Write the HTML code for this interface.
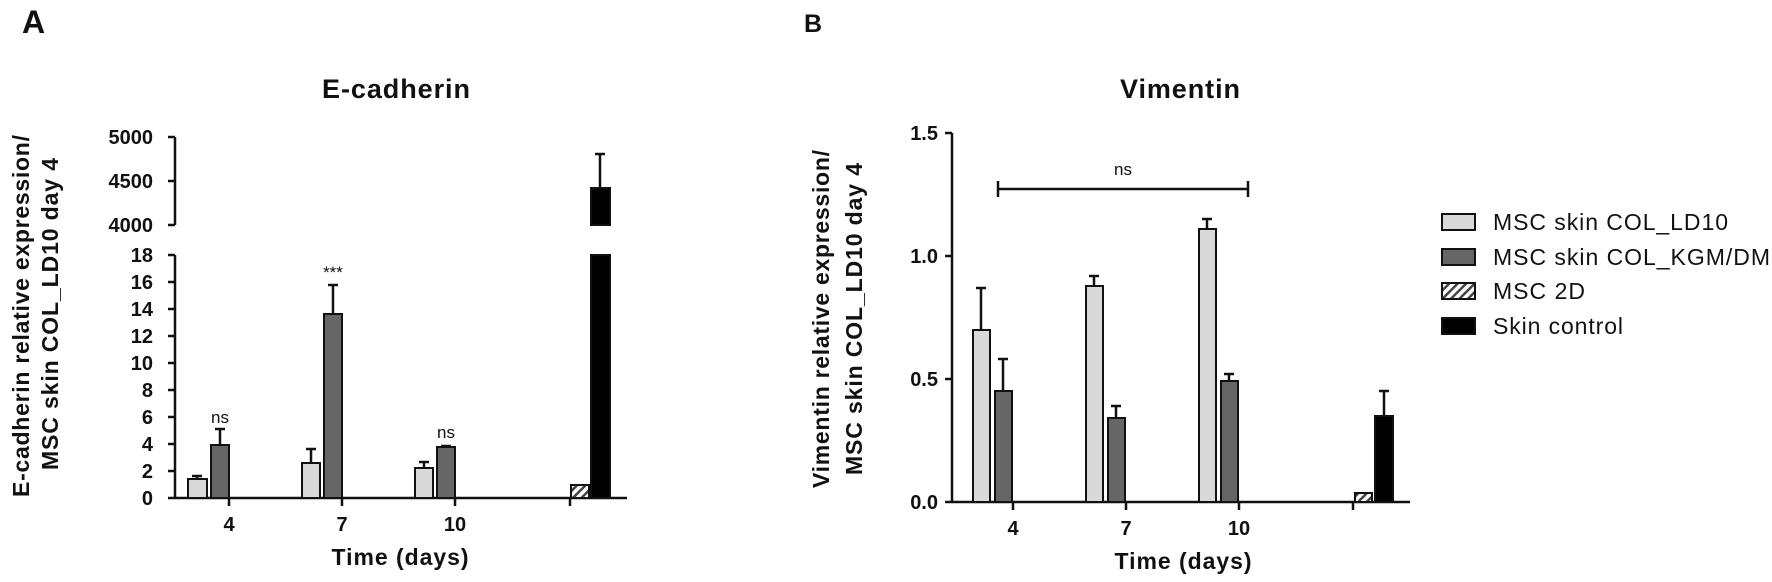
<!DOCTYPE html>
<html><head><meta charset="utf-8"><style>
html,body{margin:0;padding:0;background:#fff;}
svg{display:block;}
text{font-family:"Liberation Sans",Arial,sans-serif;fill:#111;}
.b{font-weight:bold;}
</style></head><body>
<svg width="1772" height="582" viewBox="0 0 1772 582" xmlns="http://www.w3.org/2000/svg">
<defs>
<pattern id="h" patternUnits="userSpaceOnUse" width="6" height="6" patternTransform="rotate(45)">
<rect width="6" height="6" fill="#fff"/><rect width="2.5" height="6" fill="#444"/>
</pattern>
</defs>
<g stroke="#111" stroke-width="2.5" fill="none">
<line x1="175" y1="137" x2="175" y2="225"/>
<line x1="168" y1="137" x2="175" y2="137"/>
<line x1="168" y1="181" x2="175" y2="181"/>
<line x1="168" y1="225" x2="175" y2="225"/>
<line x1="175" y1="255" x2="175" y2="498"/>
<line x1="168" y1="255" x2="175" y2="255"/>
<line x1="168" y1="282" x2="175" y2="282"/>
<line x1="168" y1="309" x2="175" y2="309"/>
<line x1="168" y1="336" x2="175" y2="336"/>
<line x1="168" y1="363" x2="175" y2="363"/>
<line x1="168" y1="390" x2="175" y2="390"/>
<line x1="168" y1="417" x2="175" y2="417"/>
<line x1="168" y1="444" x2="175" y2="444"/>
<line x1="168" y1="471" x2="175" y2="471"/>
<line x1="168" y1="498" x2="175" y2="498"/>
<line x1="175" y1="498" x2="627" y2="498"/>
<line x1="229" y1="498" x2="229" y2="506"/>
<line x1="342" y1="498" x2="342" y2="506"/>
<line x1="455" y1="498" x2="455" y2="506"/>
<line x1="570" y1="498" x2="570" y2="506"/>
<line x1="952" y1="133" x2="952" y2="502"/>
<line x1="945" y1="133" x2="952" y2="133"/>
<line x1="945" y1="256" x2="952" y2="256"/>
<line x1="945" y1="379" x2="952" y2="379"/>
<line x1="945" y1="502" x2="952" y2="502"/>
<line x1="952" y1="502" x2="1410" y2="502"/>
<line x1="1013" y1="502" x2="1013" y2="510"/>
<line x1="1126" y1="502" x2="1126" y2="510"/>
<line x1="1239" y1="502" x2="1239" y2="510"/>
<line x1="1353" y1="502" x2="1353" y2="510"/>
<line x1="998" y1="189" x2="1248" y2="189"/>
<line x1="998" y1="181" x2="998" y2="197"/>
<line x1="1248" y1="181" x2="1248" y2="197"/>
</g>
<g stroke="#111" stroke-width="2.5">
<line x1="197" y1="479" x2="197" y2="476"/><line x1="192" y1="476" x2="202" y2="476"/>
<line x1="220" y1="445" x2="220" y2="429"/><line x1="215" y1="429" x2="225" y2="429"/>
<line x1="311" y1="463" x2="311" y2="449"/><line x1="306" y1="449" x2="316" y2="449"/>
<line x1="333" y1="314" x2="333" y2="285"/><line x1="328" y1="285" x2="338" y2="285"/>
<line x1="424" y1="468" x2="424" y2="462"/><line x1="419" y1="462" x2="429" y2="462"/>
<line x1="446" y1="447" x2="446" y2="446"/><line x1="441" y1="446" x2="451" y2="446"/>
<line x1="600" y1="188" x2="600" y2="154"/><line x1="595" y1="154" x2="605" y2="154"/>
</g>
<g stroke="#111" stroke-width="2">
<rect x="188" y="479" width="19" height="19" fill="#d9d9d9"/>
<rect x="211" y="445" width="18" height="53" fill="#666"/>
<rect x="302" y="463" width="18" height="35" fill="#d9d9d9"/>
<rect x="324" y="314" width="18" height="184" fill="#666"/>
<rect x="415" y="468" width="18" height="30" fill="#d9d9d9"/>
<rect x="437" y="447" width="18" height="51" fill="#666"/>
<rect x="571" y="485" width="18" height="13" fill="url(#h)"/>
<rect x="591" y="188" width="19" height="37" fill="#000"/>
<rect x="591" y="255" width="19" height="243" fill="#000"/>
</g>
<g stroke="#111" stroke-width="2.5">
<line x1="981" y1="330" x2="981" y2="288"/><line x1="976" y1="288" x2="986" y2="288"/>
<line x1="1003" y1="391" x2="1003" y2="359"/><line x1="998" y1="359" x2="1008" y2="359"/>
<line x1="1094" y1="286" x2="1094" y2="276"/><line x1="1089" y1="276" x2="1099" y2="276"/>
<line x1="1116" y1="418" x2="1116" y2="406"/><line x1="1111" y1="406" x2="1121" y2="406"/>
<line x1="1207" y1="229" x2="1207" y2="219"/><line x1="1202" y1="219" x2="1212" y2="219"/>
<line x1="1229" y1="381" x2="1229" y2="374"/><line x1="1224" y1="374" x2="1234" y2="374"/>
<line x1="1384" y1="416" x2="1384" y2="391"/><line x1="1379" y1="391" x2="1389" y2="391"/>
</g>
<g stroke="#111" stroke-width="2">
<rect x="973" y="330" width="17" height="172" fill="#d9d9d9"/>
<rect x="995" y="391" width="17" height="111" fill="#666"/>
<rect x="1086" y="286" width="17" height="216" fill="#d9d9d9"/>
<rect x="1108" y="418" width="17" height="84" fill="#666"/>
<rect x="1199" y="229" width="17" height="273" fill="#d9d9d9"/>
<rect x="1221" y="381" width="17" height="121" fill="#666"/>
<rect x="1355" y="493" width="17" height="9" fill="url(#h)"/>
<rect x="1375" y="416" width="18" height="86" fill="#000"/>
</g>
<g stroke="#111" stroke-width="2">
<rect x="1442" y="214" width="33" height="16" fill="#d9d9d9"/>
<rect x="1442" y="249" width="33" height="16" fill="#666"/>
<rect x="1442" y="283" width="33" height="16" fill="url(#h)"/>
<rect x="1442" y="318" width="33" height="16" fill="#000"/>
</g>
<g font-size="23">
<text x="1493" y="230" textLength="235">MSC skin COL_LD10</text>
<text x="1493" y="265" textLength="277">MSC skin COL_KGM/DM</text>
<text x="1493" y="299" textLength="92">MSC 2D</text>
<text x="1493" y="334" textLength="130">Skin control</text>
</g>
<text class="b" x="22" y="33" font-size="32">A</text>
<text class="b" x="804" y="32" font-size="25">B</text>
<text class="b" x="396" y="98" font-size="27" text-anchor="middle" textLength="148">E-cadherin</text>
<text class="b" x="1180" y="98" font-size="27" text-anchor="middle" textLength="120">Vimentin</text>
<g class="b" font-size="20" text-anchor="end">
<text x="153" y="144">5000</text><text x="153" y="188">4500</text><text x="153" y="232">4000</text>
<text x="153" y="262">18</text><text x="153" y="289">16</text><text x="153" y="316">14</text>
<text x="153" y="343">12</text><text x="153" y="370">10</text><text x="153" y="397">8</text>
<text x="153" y="424">6</text><text x="153" y="451">4</text><text x="153" y="478">2</text>
<text x="153" y="505">0</text>
<text x="938" y="140">1.5</text><text x="938" y="263">1.0</text><text x="938" y="386">0.5</text><text x="938" y="509">0.0</text>
</g>
<g class="b" font-size="20" text-anchor="middle">
<text x="229" y="531">4</text><text x="342" y="531">7</text><text x="455" y="531">10</text>
<text x="1013" y="535">4</text><text x="1126" y="535">7</text><text x="1239" y="535">10</text>
</g>
<text class="b" x="400" y="565" font-size="23" text-anchor="middle" textLength="137">Time (days)</text>
<text class="b" x="1183" y="569" font-size="23" text-anchor="middle" textLength="137">Time (days)</text>
<g font-size="17" fill="#333" text-anchor="middle">
<text x="220" y="423">ns</text>
<text x="446" y="438">ns</text>
<text x="333" y="278">***</text>
<text x="1123" y="175">ns</text>
</g>
<g class="b" font-size="23" text-anchor="middle">
<text transform="translate(29,316) rotate(-90)" textLength="362">E-cadherin relative expression/</text>
<text transform="translate(58,314) rotate(-90)" textLength="312">MSC skin COL_LD10 day 4</text>
<text transform="translate(829,319) rotate(-90)" textLength="338">Vimentin relative expression/</text>
<text transform="translate(862,319) rotate(-90)" textLength="312">MSC skin COL_LD10 day 4</text>
</g>
</svg>
</body></html>
